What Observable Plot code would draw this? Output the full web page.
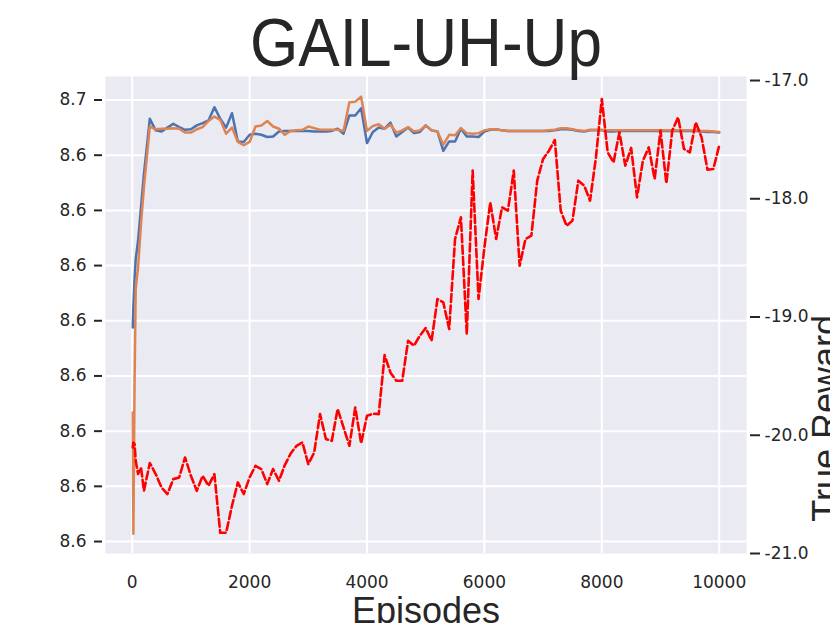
<!DOCTYPE html>
<html><head><meta charset="utf-8">
<script src="https://cdn.jsdelivr.net/npm/d3@7"></script>
<script src="https://cdn.jsdelivr.net/npm/@observablehq/plot@0.6"></script>
<style>html,body{margin:0;padding:0;background:#fff;overflow:hidden}</style>
</head><body><div id="chart"></div>
<script>
const titleText = "GAIL-UH-Up";
const xLabel = "Episodes";
const yRightLabel = "True Reward";

const episodes = [10, 20, 40, 60, 100, 150, 200,
  300, 400, 500, 600, 700, 800, 900, 1000, 1100, 1200,
  1300, 1400, 1500, 1600, 1700, 1800, 1900, 2000, 2100, 2200,
  2300, 2400, 2500, 2600, 2700, 2800, 2900, 3000, 3100, 3200,
  3300, 3400, 3500, 3600, 3700, 3800, 3900, 4000, 4100, 4200,
  4300, 4400, 4500, 4600, 4700, 4800, 4900, 5000, 5100, 5200,
  5300, 5400, 5500, 5600, 5700, 5800, 5900, 6000, 6100, 6200,
  6300, 6400, 6500, 6600, 6700, 6800, 6900, 7000, 7100, 7200,
  7300, 7400, 7500, 7600, 7700, 7800, 7900, 8000, 8100, 8200,
  8300, 8400, 8500, 8600, 8700, 8800, 8900, 9000, 9100, 9200,
  9300, 9400, 9500, 9600, 9700, 9800, 9900, 10000];

// left axis series (blue)
const blueValues = [8.6588, 8.6625, 8.6676, 8.6712, 8.6745, 8.6806, 8.6866,
  8.6966, 8.6945, 8.6943, 8.6950, 8.6957, 8.6951, 8.6946, 8.6947, 8.6954, 8.6958,
  8.6963, 8.6987, 8.6966, 8.6950, 8.6976, 8.6925, 8.6924, 8.6937, 8.6939, 8.6937,
  8.6933, 8.6934, 8.6943, 8.6944, 8.6944, 8.6944, 8.6944, 8.6944, 8.6943, 8.6943,
  8.6943, 8.6944, 8.6948, 8.6939, 8.6972, 8.6972, 8.6985, 8.6922, 8.6942, 8.6950,
  8.6948, 8.6959, 8.6934, 8.6942, 8.6950, 8.6940, 8.6942, 8.6954, 8.6945, 8.6943,
  8.6908, 8.6925, 8.6925, 8.6948, 8.6934, 8.6934, 8.6933, 8.6943, 8.6946, 8.6947,
  8.6945, 8.6944, 8.6944, 8.6944, 8.6944, 8.6944, 8.6944, 8.6944, 8.6944, 8.6945,
  8.6947, 8.6947, 8.6946, 8.6944, 8.6943, 8.6945, 8.6945, 8.6945, 8.6943, 8.6943,
  8.6944, 8.6944, 8.6944, 8.6944, 8.6944, 8.6944, 8.6944, 8.6944, 8.6944, 8.6944,
  8.6944, 8.6944, 8.6944, 8.6944, 8.6943, 8.6942, 8.6942, 8.6941];

// left axis series (orange)
const orangeValues = [8.6434, 8.6214, 8.6486, 8.6658, 8.6697, 8.6776, 8.6842,
  8.6952, 8.6947, 8.6948, 8.6948, 8.6949, 8.6948, 8.6941, 8.6941, 8.6947, 8.6951,
  8.6962, 8.6970, 8.6964, 8.6939, 8.6950, 8.6924, 8.6918, 8.6924, 8.6952, 8.6954,
  8.6962, 8.6952, 8.6948, 8.6937, 8.6944, 8.6945, 8.6946, 8.6952, 8.6949, 8.6946,
  8.6946, 8.6946, 8.6946, 8.6944, 8.6996, 8.6997, 8.7006, 8.6944, 8.6953, 8.6956,
  8.6948, 8.6955, 8.6941, 8.6945, 8.6951, 8.6943, 8.6945, 8.6954, 8.6945, 8.6943,
  8.6919, 8.6937, 8.6936, 8.6949, 8.6940, 8.6939, 8.6940, 8.6945, 8.6947, 8.6947,
  8.6945, 8.6944, 8.6944, 8.6944, 8.6944, 8.6944, 8.6944, 8.6944, 8.6945, 8.6946,
  8.6949, 8.6949, 8.6947, 8.6945, 8.6944, 8.6946, 8.6946, 8.6946, 8.6945, 8.6945,
  8.6945, 8.6945, 8.6945, 8.6945, 8.6945, 8.6945, 8.6945, 8.6945, 8.6945, 8.6945,
  8.6945, 8.6945, 8.6945, 8.6945, 8.6944, 8.6944, 8.6943, 8.6942];

// right axis series (red dashed, True Reward)
const trueReward = [-20.103, -20.061, -20.074, -20.216, -20.328, -20.272, -20.470,
  -20.235, -20.328, -20.442, -20.497, -20.371, -20.357, -20.188, -20.343, -20.470, -20.343,
  -20.427, -20.328, -20.825, -20.825, -20.596, -20.399, -20.497, -20.357, -20.258, -20.286,
  -20.413, -20.286, -20.385, -20.252, -20.154, -20.089, -20.061, -20.244, -20.146, -19.821,
  -20.032, -20.047, -19.778, -19.934, -20.089, -19.765, -20.069, -19.835, -19.818, -19.821,
  -19.322, -19.471, -19.539, -19.539, -19.201, -19.243, -19.158, -19.093, -19.201, -18.848,
  -18.877, -19.102, -18.340, -18.157, -19.144, -17.762, -18.848, -18.411, -18.031, -18.340,
  -18.073, -18.101, -17.762, -18.566, -18.340, -18.312, -17.847, -17.663, -17.593, -17.503,
  -18.101, -18.228, -18.185, -17.847, -17.889, -18.016, -17.650, -17.156, -17.607, -17.692,
  -17.438, -17.720, -17.570, -17.988, -17.678, -17.565, -17.833, -17.424, -17.870, -17.424,
  -17.311, -17.579, -17.607, -17.354, -17.481, -17.754, -17.748, -17.551];

const xTicks = [0, 2000, 4000, 6000, 8000, 10000];
const xTickLabels = ["0", "2000", "4000", "6000", "8000", "10000"];
const leftTicks = [8.62, 8.63, 8.64, 8.65, 8.66, 8.67, 8.68, 8.69, 8.70];
const leftTickLabels = ["8.6", "8.6", "8.6", "8.6", "8.6", "8.6", "8.6", "8.6", "8.7"];
const rightTicks = [-21, -20, -19, -18, -17];
const rightTickLabels = ["-21.0", "-20.0", "-19.0", "-18.0", "-17.0"];

const xDomain = [-455, 10465];
const leftDomain = [8.61783, 8.70426];
const rightDomain = [-21.0, -16.966];

// twin axes: left-axis values are drawn on the right-axis (y) scale
const leftToRight = d3.scaleLinear().domain(leftDomain).range(rightDomain);
const leftTickPos = leftTicks.map(leftToRight);
const leftLabelMap = new Map(leftTickPos.map((p, i) => [p, leftTickLabels[i]]));
const rightLabelMap = new Map(rightTicks.map((p, i) => [p, rightTickLabels[i]]));
const xLabelMap = new Map(xTicks.map((p, i) => [p, xTickLabels[i]]));

const blueData = episodes.map((ep, i) => ({ep, v: leftToRight(blueValues[i])}));
const orangeData = episodes.map((ep, i) => ({ep, v: leftToRight(orangeValues[i])}));
const redData = episodes.map((ep, i) => ({ep, v: trueReward[i]}));

const ink = "#262626";
const tickFont = "DejaVu Sans";
const labelFont = "Liberation Sans, Arial, sans-serif";

const chart = Plot.plot({
  width: 830,
  height: 623,
  marginLeft: 105,
  marginRight: 84,
  marginTop: 76,
  marginBottom: 70,
  style: {background: "#ffffff", color: ink, fontFamily: tickFont, overflow: "visible"},
  x: {domain: xDomain},
  y: {domain: rightDomain},
  marks: [
    Plot.frame({fill: "#eaeaf2", stroke: "none"}),
    Plot.ruleX(xTicks, {stroke: "#ffffff", strokeWidth: 2}),
    Plot.ruleY(leftTickPos, {stroke: "#ffffff", strokeWidth: 2}),
    Plot.axisX(xTicks, {anchor: "bottom", tickSize: 0, tickPadding: 22, fontSize: 17,
      tickFormat: d => xLabelMap.get(d), label: null, fill: ink}),
    Plot.axisY(leftTickPos, {anchor: "left", tickSize: 8, tickPadding: 8, dx: -3, fontSize: 17,
      strokeWidth: 2, tickFormat: d => leftLabelMap.get(d), label: null, fill: ink, stroke: ink}),
    Plot.axisY(rightTicks, {anchor: "right", tickSize: 10, tickPadding: 5, dx: 3, fontSize: 17,
      strokeWidth: 2, tickFormat: d => rightLabelMap.get(d), label: null, fill: ink, stroke: ink}),
    Plot.line(blueData, {x: "ep", y: "v", stroke: "#4c72b0", strokeWidth: 2.5}),
    Plot.line(orangeData, {x: "ep", y: "v", stroke: "#dd8452", strokeWidth: 2.5}),
    Plot.line(redData, {x: "ep", y: "v", stroke: "#ff0000", strokeWidth: 2.6, strokeDasharray: "8,3.4"}),
    Plot.text([titleText], {frameAnchor: "top", lineAnchor: "top", dy: -58.6, fontSize: 68,
      fontFamily: labelFont, fill: ink, text: d => d}),
    Plot.text([xLabel], {frameAnchor: "bottom", lineAnchor: "top", dy: 44, fontSize: 36,
      fontFamily: labelFont, fill: ink, text: d => d}),
    Plot.text([yRightLabel], {frameAnchor: "right", lineAnchor: "top", rotate: -90, dx: 66, fontSize: 36,
      fontFamily: labelFont, fill: ink, text: d => d})
  ]
});
// the reference title is set slightly condensed
for (const t of chart.querySelectorAll("text")) {
  if (t.textContent === titleText) {
    t.setAttribute("textLength", "352");
    t.setAttribute("lengthAdjust", "spacingAndGlyphs");
  }
}
document.getElementById("chart").appendChild(chart);
</script>
</body></html>
